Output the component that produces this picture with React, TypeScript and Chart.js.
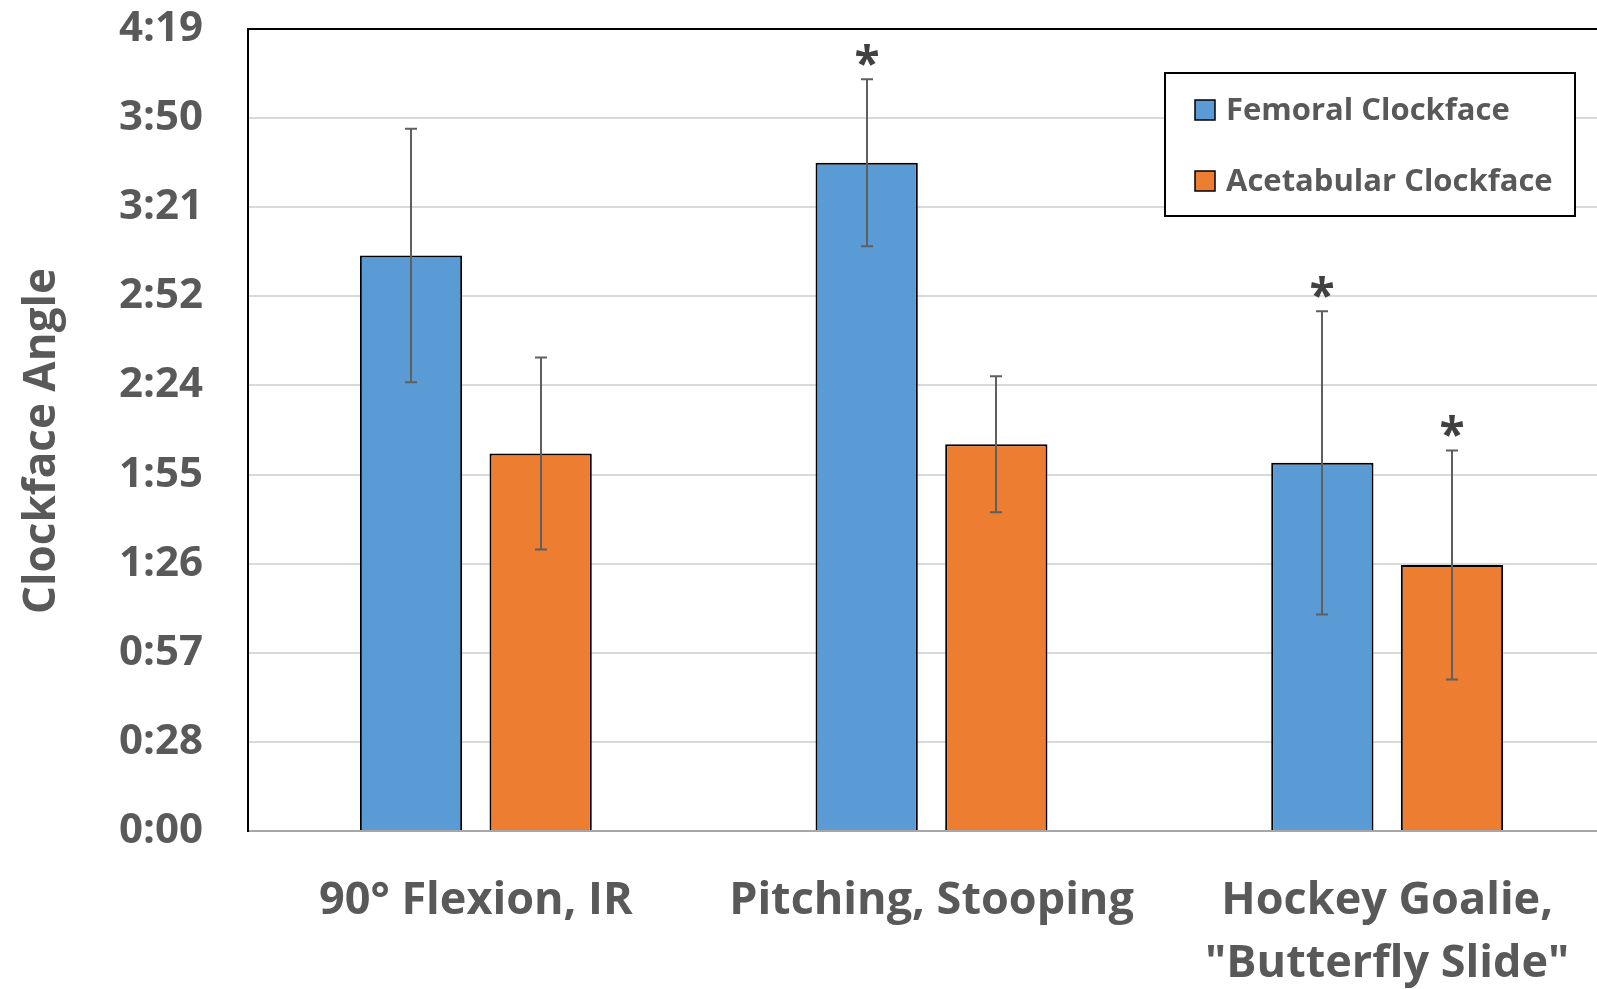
import React, { useEffect, useRef } from 'react';
import { Chart, registerables } from 'chart.js';

Chart.register(...registerables);

// ---- Data (values in minutes of clockface time) ----
const categories: (string | string[])[] = [
  '90° Flexion, IR',
  'Pitching, Stooping',
  ['Hockey Goalie,', '"Butterfly Slide"'],
];
const seriesNames = ['Femoral Clockface', 'Acetabular Clockface'];
const femoral = [186, 216, 119];
const femoralErr = [41, 27, 49];
const acetabular = [122, 125, 86];
const acetabularErr = [31, 22, 37];
const femoralSig = [false, true, true];
const acetabularSig = [false, false, true];
const yTickLabels = ['0:00', '0:28', '0:57', '1:26', '1:55', '2:24', '2:52', '3:21', '3:50', '4:19'];
const yStep = 28.8;
const yMax = 259.2;
const yTitle = 'Clockface Angle';

const FONT = '"Open Sans", "Liberation Sans", sans-serif';
const TEXT = '#595959';
const BLUE = '#5B9BD5';
const ORANGE = '#ED7D31';

const errArrays = [femoralErr, acetabularErr];
const sigArrays = [femoralSig, acetabularSig];

const errorBarPlugin = {
  id: 'errorBars',
  afterDatasetsDraw(chart: any) {
    const ctx = chart.ctx;
    const y = chart.scales.y;
    chart.data.datasets.forEach((ds: any, di: number) => {
      const meta = chart.getDatasetMeta(di);
      meta.data.forEach((bar: any, i: number) => {
        const v = ds.data[i];
        const e = errArrays[di][i];
        const x = Math.round(bar.x);
        const yTop = y.getPixelForValue(v + e);
        const yBot = y.getPixelForValue(v - e);
        ctx.save();
        ctx.strokeStyle = '#5f5f5f';
        ctx.lineWidth = 2;
        ctx.beginPath();
        ctx.moveTo(x, yTop);
        ctx.lineTo(x, yBot);
        ctx.moveTo(x - 6, yTop);
        ctx.lineTo(x + 6, yTop);
        ctx.moveTo(x - 6, yBot);
        ctx.lineTo(x + 6, yBot);
        ctx.stroke();
        if (sigArrays[di][i]) {
          ctx.fillStyle = '#404040';
          ctx.font = `bold 46px ${FONT}`;
          ctx.textAlign = 'center';
          ctx.textBaseline = 'alphabetic';
          ctx.fillText('*', x, yTop + 1);
        }
        ctx.restore();
      });
    });
  },
};

const decorPlugin = {
  id: 'decor',
  afterDraw(chart: any) {
    const ctx = chart.ctx;
    // y-axis title
    ctx.save();
    ctx.translate(55, 441);
    ctx.rotate(-Math.PI / 2);
    ctx.fillStyle = TEXT;
    ctx.font = `bold 44px ${FONT}`;
    ctx.textAlign = 'center';
    ctx.textBaseline = 'alphabetic';
    ctx.fillText(yTitle, 0, 0);
    ctx.restore();

    // legend
    ctx.save();
    ctx.fillStyle = '#ffffff';
    ctx.fillRect(1165, 73, 410, 143);
    ctx.strokeStyle = '#000000';
    ctx.lineWidth = 2;
    ctx.strokeRect(1165, 73, 410, 143);
    const rows = [110, 181];
    chart.data.datasets.forEach((ds: any, i: number) => {
      const cy = rows[i];
      ctx.fillStyle = ds.backgroundColor;
      ctx.fillRect(1195, cy - 10, 20, 20);
      ctx.strokeStyle = '#000';
      ctx.lineWidth = 1.5;
      ctx.strokeRect(1195, cy - 10, 20, 20);
      ctx.fillStyle = TEXT;
      ctx.font = `bold 31px ${FONT}`;
      ctx.textAlign = 'left';
      ctx.textBaseline = 'middle';
      ctx.fillText(ds.label, 1226, cy + 1);
    });
    ctx.restore();
  },
};

export default function App() {
  const ref = useRef<HTMLCanvasElement>(null);

  useEffect(() => {
    let chart: any = null;
    let cancelled = false;
    const build = () => {
      if (cancelled || !ref.current) return;
      chart = new Chart(ref.current, {
        type: 'bar',
        data: {
          labels: categories as any,
          datasets: [
            {
              label: seriesNames[0],
              data: femoral,
              backgroundColor: BLUE,
              borderColor: '#000',
              borderWidth: 2,
              categoryPercentage: 0.569,
              barPercentage: 0.789,
            },
            {
              label: seriesNames[1],
              data: acetabular,
              backgroundColor: ORANGE,
              borderColor: '#000',
              borderWidth: 2,
              categoryPercentage: 0.569,
              barPercentage: 0.789,
            },
          ],
        },
        options: {
          animation: false,
          responsive: false,
          maintainAspectRatio: false,
          devicePixelRatio: 1,
          layout: { padding: { top: 29, left: 0, right: 0, bottom: 0 } },
          plugins: {
            legend: { display: false },
            tooltip: { enabled: false },
            title: { display: false },
          },
          scales: {
            x: {
              grid: { display: false, drawTicks: false },
              border: { display: true, color: '#a6a6a6', width: 2 },
              ticks: {
                color: TEXT,
                font: { family: FONT, size: 45, weight: 'bold', lineHeight: 1.4 },
                padding: 39,
                autoSkip: false,
                maxRotation: 0,
                minRotation: 0,
              },
              afterFit(scale: any) {
                scale.height = 158;
                scale.paddingLeft = 0;
                scale.paddingRight = 0;
                scale.paddingTop = 0;
                scale.paddingBottom = 0;
              },
            },
            y: {
              min: 0,
              max: yMax,
              grid: {
                drawTicks: false,
                lineWidth: 2,
                color: (c: any) =>
                  c.index === yTickLabels.length - 1 ? '#000000' : c.index === 0 ? '#a6a6a6' : '#d9d9d9',
              },
              border: { display: true, color: '#000', width: 2 },
              ticks: {
                stepSize: yStep,
                color: TEXT,
                font: { family: FONT, size: 42, weight: 'bold' },
                padding: 45,
                callback: (_v: any, i: number) => yTickLabels[i],
              },
              afterFit(scale: any) {
                scale.width = 248;
                scale.paddingTop = 0;
                scale.paddingBottom = 0;
                scale.paddingLeft = 0;
                scale.paddingRight = 0;
              },
            },
          },
        },
        plugins: [errorBarPlugin, decorPlugin],
      } as any);
    };
    const fonts: any = (document as any).fonts;
    if (fonts && fonts.load) {
      Promise.all([
        fonts.load(`bold 40px "Open Sans"`),
        fonts.load(`bold 40px "Liberation Sans"`),
      ]).then(build, build);
    } else {
      build();
    }
    return () => {
      cancelled = true;
      if (chart) chart.destroy();
    };
  }, []);

  return (
    <div
      style={{
        position: 'fixed',
        left: 0,
        top: 0,
        width: '100vw',
        height: '100vh',
        overflow: 'hidden',
        background: '#ffffff',
      }}
    >
      <canvas ref={ref} width={1615} height={989} style={{ display: 'block', width: 1615, height: 989 }} />
    </div>
  );
}
